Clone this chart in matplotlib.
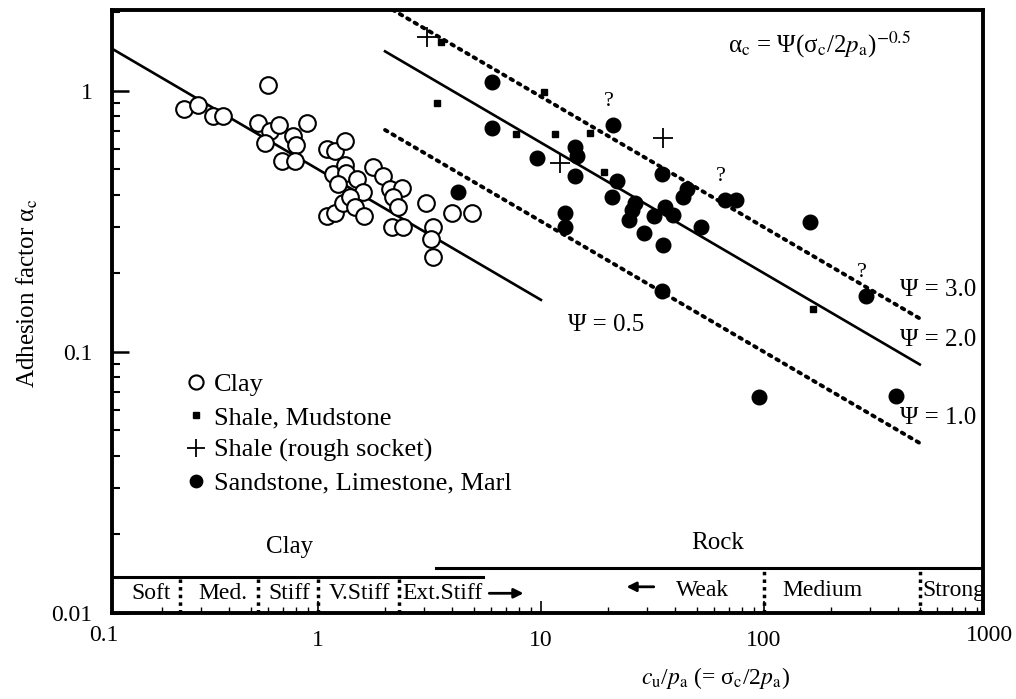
import numpy as np
import matplotlib
matplotlib.use('Agg')
import matplotlib.pyplot as plt

plt.rcParams['font.family'] = 'serif'
plt.rcParams['font.serif'] = ['Liberation Serif', 'DejaVu Serif']
plt.rcParams['mathtext.fontset'] = 'stix'

# clay (open circles)
clay_x = [0.25, 0.29, 0.34, 0.375, 0.60, 0.54, 0.61, 0.67, 0.58, 0.69, 0.77, 0.80,
          0.79, 0.89, 1.10, 1.19, 1.32, 1.17, 1.32, 1.34, 1.50, 1.23, 1.76, 1.96,
          1.59, 2.10, 2.38, 2.17, 2.28, 2.15, 2.40, 1.10, 1.19, 1.29, 1.39, 1.47,
          1.61, 3.05, 3.28, 3.21, 3.28, 3.99, 4.91]
clay_y = [0.85, 0.88, 0.80, 0.80, 1.05, 0.75, 0.70, 0.74, 0.63, 0.54, 0.67, 0.62,
          0.54, 0.75, 0.60, 0.59, 0.64, 0.48, 0.52, 0.485, 0.46, 0.44, 0.51, 0.47,
          0.41, 0.42, 0.425, 0.39, 0.36, 0.30, 0.30, 0.33, 0.34, 0.37, 0.39, 0.36,
          0.33, 0.37, 0.30, 0.27, 0.23, 0.34, 0.34]

# shale, mudstone (small squares)
shale_x = [3.42, 3.56, 10.3, 7.72, 11.6, 16.6, 19.2, 166]
shale_y = [0.90, 1.53, 0.99, 0.68, 0.68, 0.69, 0.49, 0.146]

# shale, rough socket (plus)
rough_x = [3.08, 35.2, 12.2]
rough_y = [1.61, 0.66, 0.53]

# sandstone, limestone, marl (filled circles)
sand_x = [6.03, 6.03, 9.6, 14.2, 14.5, 14.2, 21.0, 21.9, 20.8, 26.4, 25.6, 24.8,
          29.0, 32.1, 35.2, 34.9, 36.0, 39.1, 43.4, 45.1, 52.1, 66.8, 74.9, 161,
          287, 12.8, 12.8, 34.9, 4.24, 95, 391]
sand_y = [1.08, 0.72, 0.55, 0.61, 0.56, 0.47, 0.74, 0.45, 0.39, 0.37, 0.35, 0.32,
          0.286, 0.33, 0.257, 0.48, 0.36, 0.335, 0.39, 0.42, 0.30, 0.38, 0.38, 0.315,
          0.164, 0.34, 0.30, 0.171, 0.41, 0.067, 0.068]
doubtful = [6, 21, 24]   # sandstone points marked with '?'

# alpha_c = psi * (sigma_c / 2 pa) ** -0.5
psi_clay = 0.5
psi_rock = [1.0, 2.0, 3.0]

# strength classes along the bottom strip
clay_bounds = [0.24, 0.54, 1.0, 2.3]
clay_names = ['Soft', 'Med.', 'Stiff', 'V.Stiff']
clay_name_x = [0.178, 0.375, 0.74, 1.53]
rock_bounds = [100, 500]
rock_names = ['Weak', 'Medium']
rock_name_x = [53, 182]

fig = plt.figure(figsize=(10.16, 6.99), dpi=100)
ax = fig.add_axes([0.110, 0.123, 0.8575, 0.863])
ax.set_xscale('log')
ax.set_yscale('log')
ax.set_xlim(0.119, 960)
ax.set_ylim(0.01, 2.04)

# design lines
xc = np.logspace(-1, 1, 50)
ax.plot(xc, psi_clay * xc ** -0.5, color='k', lw=1.9)
ax.text(13.2, 0.127, 'Ψ = 0.5', fontsize=18, va='center')
xr = np.logspace(np.log10(2), np.log10(500), 50)
for psi in psi_rock:
    if psi == 2.0:
        ax.plot(xr, psi * xr ** -0.5, color='k', lw=1.9)
    else:
        ax.plot(xr, psi * xr ** -0.5, color='k', lw=2.8,
                linestyle=(0, (0.7, 1.5)), dash_capstyle='round')
for psi, yl in zip([3.0, 2.0, 1.0], [0.173, 0.111, 0.056]):
    ax.text(408, yl, 'Ψ = %.1f' % psi, fontsize=18, va='center')

# data
ax.plot(clay_x, clay_y, 'o', ms=12, mfc='white', mec='k', mew=1.5, ls='none',
        label='Clay')
ax.plot(shale_x, shale_y, 's', ms=4.5, color='k', ls='none', label='Shale, Mudstone')
ax.plot(rough_x, rough_y, '+', ms=15, mew=1.3, color='k', ls='none',
        label='Shale (rough socket)')
ax.plot(sand_x, sand_y, 'o', ms=10.5, color='k', ls='none',
        label='Sandstone, Limestone, Marl')
for i in doubtful:
    ax.annotate('?', (sand_x[i], sand_y[i]), xytext=(-3, 17), textcoords='offset points',
                ha='center', va='center', fontsize=16)

ax.text(178, 1.50, r'α$_{\rm c}$ = Ψ(σ$_{\rm c}$/2$p_{\rm a}$)$^{-0.5}$',
        fontsize=18, ha='center', va='center')

leg = ax.legend(loc='upper left', bbox_to_anchor=(0.063, 0.42), frameon=False,
                fontsize=19, handletextpad=0.1, labelspacing=0.35, markerscale=0.85,
                handlelength=1.2, borderpad=0)

# strength strip
clay_top = 0.0137
rock_top = 0.0149
ax.plot([0.119, 5.5], [clay_top, clay_top], color='k', lw=2.2)
ax.plot([3.4, 960], [rock_top, rock_top], color='k', lw=2.2)
ax.vlines(clay_bounds, 0.01, clay_top, colors='k', lw=2.5, linestyles=(0, (1, 1.2)))
ax.vlines(rock_bounds, 0.01, rock_top, colors='k', lw=2.5, linestyles=(0, (1, 1.2)))
for name, xn in zip(clay_names, clay_name_x):
    ax.text(xn, 0.0119, name, fontsize=17, ha='center', va='center')
ax.text(2.4, 0.0119, 'Ext.Stiff', fontsize=17, ha='left', va='center')
ax.annotate('', xy=(8.6, 0.0119), xytext=(5.7, 0.0119),
            arrowprops=dict(arrowstyle='-|>', color='k', lw=2, mutation_scale=14))
ax.annotate('', xy=(23.5, 0.0126), xytext=(33, 0.0126),
            arrowprops=dict(arrowstyle='-|>', color='k', lw=2, mutation_scale=14))
for name, xn in zip(rock_names, rock_name_x):
    ax.text(xn, 0.0122, name, fontsize=17, ha='center', va='center')
ax.text(515, 0.0122, 'Strong', fontsize=17, ha='left', va='center')
ax.text(0.75, 0.0179, 'Clay', fontsize=18, ha='center', va='center')
ax.text(62, 0.0185, 'Rock', fontsize=18, ha='center', va='center')

# axes and ticks
for s in ax.spines.values():
    s.set_linewidth(2.8)
ax.set_xticks([1, 10, 100])
ax.set_xticklabels(['1', '10', '100'])
ax.set_yticks([0.01, 0.1, 1])
ax.set_yticklabels(['0.01', '0.1', '1'])
ax.tick_params(which='both', direction='in', top=False, right=False, labelsize=17)
ax.tick_params(axis='y', which='major', length=12, width=1.8, pad=14)
ax.tick_params(axis='y', which='minor', length=6, width=1.5)
ax.tick_params(axis='x', which='major', length=9, width=1.2, pad=12)
ax.tick_params(axis='x', which='minor', length=4, width=1.0)
ax.text(-0.009, -0.038, '0.1', transform=ax.transAxes, fontsize=17, ha='center', va='center')
ax.text(1.008, -0.038, '1000', transform=ax.transAxes, fontsize=17, ha='center', va='center')

ax.set_ylabel(r'Adhesion factor α$_{\rm c}$', fontsize=18, labelpad=8, y=0.53)
ax.set_xlabel(r'$c_{\rm u}$/$p_{\rm a}$ (= σ$_{\rm c}$/2$p_{\rm a}$)', fontsize=17,
              labelpad=10, x=0.693)

fig.savefig('out.png', dpi=100)
